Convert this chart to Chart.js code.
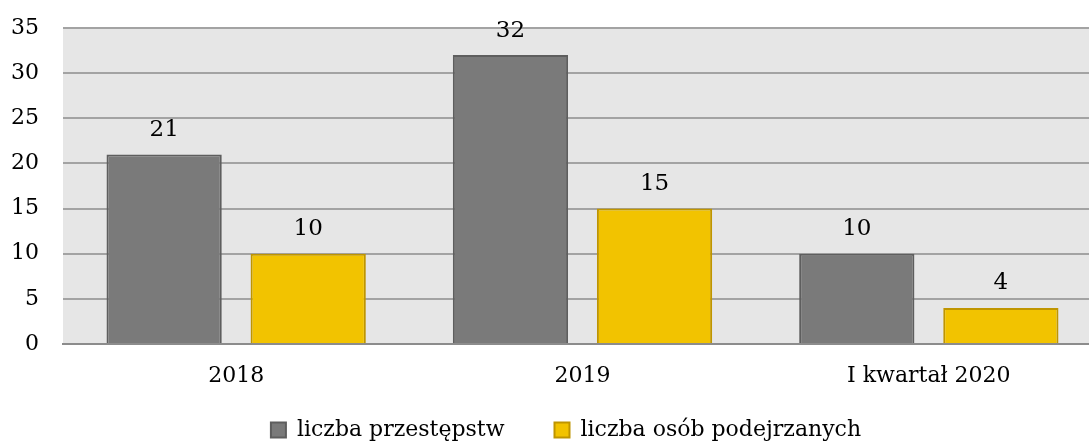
<!DOCTYPE html>
<html>
<head>
<meta charset="utf-8">
<script src="https://cdn.jsdelivr.net/npm/chart.js@4"></script>
<style>
  html, body { margin: 0; padding: 0; background: #fff; overflow: hidden; }
  #wrap { width: 1089px; height: 445px; overflow: hidden; }
</style>
</head>
<body>
<div id="wrap"><canvas id="chart" width="1102" height="445"></canvas></div>
<script>
const categories = ['2018', '2019', 'I kwartał 2020'];
const offences = [21, 32, 10];
const suspects = [10, 15, 4];
const yTicks = [0, 5, 10, 15, 20, 25, 30, 35];

const FONT = "'DejaVu Serif', serif";

// grey plot background
const plotBg = {
  id: 'plotBg',
  beforeDraw(chart) {
    const { ctx, chartArea: a } = chart;
    ctx.save();
    ctx.fillStyle = '#e6e6e6';
    ctx.fillRect(a.left, a.top, a.right - a.left, a.bottom - a.top);
    ctx.restore();
  },
};

// value labels above bars
const valueLabels = {
  id: 'valueLabels',
  afterDatasetsDraw(chart) {
    const { ctx } = chart;
    ctx.save();
    ctx.font = '23px ' + FONT;
    ctx.fillStyle = '#000';
    ctx.textAlign = 'center';
    ctx.textBaseline = 'bottom';
    chart.data.datasets.forEach((ds, i) => {
      chart.getDatasetMeta(i).data.forEach((bar, j) => {
        ctx.fillText(String(ds.data[j]), bar.x, bar.y - 13);
      });
    });
    ctx.restore();
  },
};

// the canvas is wider than the window (plot runs off the right edge),
// so put the legend back where it sits in the picture
const legendShift = {
  id: 'legendShift',
  afterLayout(chart) {
    const lg = chart.legend;
    lg.left += 15;
    lg.right += 15;
    lg.top = 369;
    lg.bottom = 445;
  },
};

new Chart(document.getElementById('chart'), {
  type: 'bar',
  data: {
    labels: categories,
    datasets: [{
      label: 'liczba przestępstw',
      data: offences,
      backgroundColor: '#7a7a7a',
      borderColor: '#5e5e5e',
      borderWidth: 2,
      borderSkipped: 'bottom',
    }, {
      label: 'liczba osób podejrzanych',
      data: suspects,
      backgroundColor: '#f2c300',
      borderColor: '#bf9500',
      borderWidth: 2,
      borderSkipped: 'bottom',
    }],
  },
  plugins: [plotBg, valueLabels, legendShift],
  options: {
    responsive: false,
    animation: false,
    layout: { padding: { top: 28, right: 0, left: 0, bottom: 0 } },
    datasets: {
      bar: { categoryPercentage: 0.832, barPercentage: 0.8 },
    },
    plugins: {
      tooltip: { enabled: false },
      legend: {
        position: 'bottom',
        maxHeight: 56,
        labels: {
          font: { family: FONT, size: 22 },
          color: '#000',
          boxWidth: 15,
          boxHeight: 15,
          padding: 50,
          generateLabels(chart) {
            return chart.data.datasets.map((ds, i) => ({
              text: ds.label,
              fillStyle: ds.backgroundColor,
              strokeStyle: ds.borderColor,
              lineWidth: 2,
              datasetIndex: i,
            }));
          },
        },
      },
    },
    scales: {
      x: {
        grid: { display: false },
        border: { color: '#8c8c8c', width: 2 },
        ticks: { font: { family: FONT, size: 22 }, color: '#000', padding: 11 },
        afterFit(axis) {
          axis.height = 45;
          axis.paddingLeft = 0;
          axis.paddingRight = 0;
        },
      },
      y: {
        min: 0,
        max: 35,
        afterBuildTicks(axis) { axis.ticks = yTicks.map(v => ({ value: v })); },
        afterFit(axis) {
          axis.width = 63;
          axis.paddingTop = 0;
          axis.paddingBottom = 0;
        },
        grid: { color: '#a3a3a3', lineWidth: 2, drawTicks: false },
        border: { display: false },
        ticks: { font: { family: FONT, size: 22 }, color: '#000', padding: 24 },
      },
    },
  },
});
</script>
</body>
</html>
